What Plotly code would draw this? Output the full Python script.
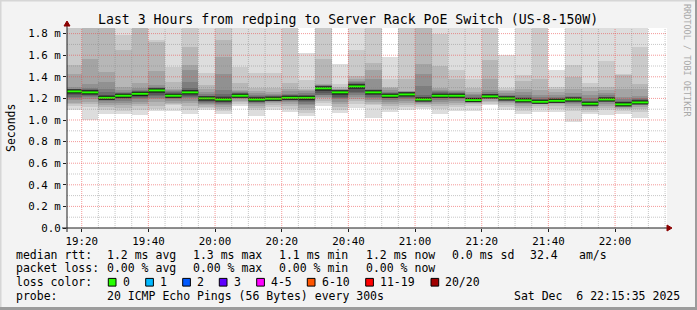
import plotly.graph_objects as go
import pandas as pd

# ---------------- data ----------------
bar_starts = pd.date_range("2025-12-06 19:15:00", periods=35, freq="5min")

median_ms = [1.265, 1.256, 1.206, 1.225, 1.243, 1.274, 1.225, 1.256, 1.200, 1.190,
             1.225, 1.190, 1.197, 1.206, 1.206, 1.293, 1.256, 1.311, 1.256, 1.225,
             1.237, 1.190, 1.225, 1.225, 1.184, 1.219, 1.200, 1.182, 1.169, 1.178,
             1.190, 1.151, 1.190, 1.145, 1.163]

# 20 sorted ping rtts (ms) per 5-minute step (values above 1.85 are off the chart)
pings_ms = [
    [1.095, 1.13, 1.15, 1.16, 1.185, 1.2, 1.215, 1.235, 1.25, 1.262, 1.267, 1.27, 1.275, 1.28, 1.29, 1.31, 1.43, 1.506, 1.9, 2.0],
    [1.003, 1.12, 1.15, 1.17, 1.19, 1.21, 1.225, 1.235, 1.245, 1.252, 1.26, 1.268, 1.275, 1.285, 1.30, 1.33, 1.567, 1.9, 1.95, 2.0],
    [1.058, 1.095, 1.12, 1.14, 1.16, 1.175, 1.185, 1.19, 1.195, 1.202, 1.21, 1.22, 1.235, 1.255, 1.283, 1.352, 1.444, 1.9, 1.95, 2.0],
    [1.052, 1.08, 1.11, 1.14, 1.16, 1.175, 1.19, 1.2, 1.21, 1.22, 1.23, 1.235, 1.24, 1.25, 1.26, 1.28, 1.306, 1.644, 1.783, 2.0],
    [1.05, 1.09, 1.13, 1.15, 1.17, 1.19, 1.2, 1.21, 1.225, 1.238, 1.248, 1.255, 1.26, 1.27, 1.28, 1.30, 1.343, 1.9, 1.95, 2.0],
    [1.083, 1.10, 1.13, 1.167, 1.19, 1.205, 1.22, 1.235, 1.25, 1.265, 1.28, 1.285, 1.29, 1.295, 1.305, 1.327, 1.45, 1.72, 1.745, 2.0],
    [1.083, 1.135, 1.145, 1.16, 1.175, 1.19, 1.2, 1.21, 1.218, 1.225, 1.232, 1.238, 1.245, 1.255, 1.265, 1.275, 1.29, 1.352, 1.49, 2.0],
    [1.058, 1.09, 1.13, 1.16, 1.18, 1.2, 1.215, 1.225, 1.24, 1.25, 1.262, 1.27, 1.28, 1.30, 1.352, 1.46, 1.506, 1.68, 1.9, 2.0],
    [1.095, 1.11, 1.12, 1.135, 1.15, 1.16, 1.17, 1.18, 1.188, 1.196, 1.204, 1.21, 1.215, 1.225, 1.24, 1.26, 1.29, 1.32, 1.435, 2.0],
    [1.052, 1.083, 1.10, 1.12, 1.135, 1.15, 1.16, 1.17, 1.178, 1.186, 1.194, 1.205, 1.22, 1.24, 1.274, 1.43, 1.583, 1.744, 1.9, 2.0],
    [1.13, 1.15, 1.165, 1.175, 1.19, 1.20, 1.21, 1.215, 1.22, 1.223, 1.228, 1.235, 1.24, 1.25, 1.26, 1.27, 1.28, 1.343, 1.49, 2.0],
    [1.033, 1.095, 1.11, 1.13, 1.145, 1.157, 1.165, 1.175, 1.182, 1.188, 1.193, 1.2, 1.21, 1.22, 1.235, 1.25, 1.27, 1.30, 1.435, 2.0],
    [1.095, 1.12, 1.14, 1.155, 1.165, 1.175, 1.182, 1.188, 1.192, 1.195, 1.2, 1.205, 1.212, 1.22, 1.23, 1.245, 1.26, 1.30, 1.435, 2.0],
    [1.07, 1.10, 1.13, 1.15, 1.165, 1.178, 1.188, 1.195, 1.2, 1.204, 1.208, 1.212, 1.22, 1.23, 1.245, 1.265, 1.29, 1.343, 1.9, 2.0],
    [1.033, 1.065, 1.09, 1.11, 1.135, 1.15, 1.165, 1.18, 1.192, 1.202, 1.21, 1.218, 1.225, 1.235, 1.25, 1.265, 1.28, 1.29, 1.367, 1.62],
    [1.13, 1.16, 1.18, 1.2, 1.215, 1.228, 1.235, 1.25, 1.265, 1.28, 1.3, 1.305, 1.31, 1.315, 1.32, 1.325, 1.336, 1.567, 1.9, 2.0],
    [1.065, 1.09, 1.12, 1.15, 1.17, 1.19, 1.205, 1.215, 1.235, 1.25, 1.262, 1.268, 1.272, 1.276, 1.28, 1.285, 1.29, 1.31, 1.336, 1.52],
    [1.11, 1.15, 1.18, 1.197, 1.215, 1.235, 1.25, 1.262, 1.285, 1.305, 1.317, 1.325, 1.33, 1.34, 1.35, 1.365, 1.38, 1.404, 1.65, 2.0],
    [1.021, 1.135, 1.15, 1.165, 1.182, 1.2, 1.215, 1.23, 1.24, 1.25, 1.26, 1.265, 1.27, 1.28, 1.29, 1.382, 1.466, 1.528, 1.9, 2.0],
    [1.07, 1.1, 1.13, 1.15, 1.17, 1.185, 1.2, 1.21, 1.218, 1.225, 1.232, 1.24, 1.245, 1.25, 1.26, 1.28, 1.295, 1.306, 1.382, 1.583],
    [1.095, 1.12, 1.14, 1.16, 1.18, 1.195, 1.208, 1.218, 1.226, 1.233, 1.24, 1.245, 1.25, 1.255, 1.26, 1.265, 1.27, 1.382, 1.9, 2.0],
    [1.105, 1.125, 1.14, 1.151, 1.16, 1.168, 1.175, 1.18, 1.184, 1.188, 1.192, 1.198, 1.21, 1.228, 1.311, 1.43, 1.52, 1.9, 1.95, 2.0],
    [1.052, 1.105, 1.13, 1.15, 1.167, 1.185, 1.2, 1.21, 1.218, 1.225, 1.232, 1.238, 1.245, 1.255, 1.265, 1.28, 1.30, 1.496, 1.80, 2.0],
    [1.083, 1.12, 1.14, 1.16, 1.175, 1.19, 1.2, 1.21, 1.218, 1.225, 1.232, 1.24, 1.245, 1.25, 1.255, 1.265, 1.274, 1.382, 1.46, 2.0],
    [1.083, 1.13, 1.15, 1.162, 1.17, 1.175, 1.178, 1.18, 1.182, 1.184, 1.188, 1.195, 1.205, 1.215, 1.23, 1.245, 1.259, 1.30, 1.382, 2.0],
    [1.135, 1.15, 1.165, 1.178, 1.19, 1.198, 1.205, 1.21, 1.214, 1.217, 1.222, 1.228, 1.235, 1.243, 1.255, 1.274, 1.382, 1.552, 1.9, 2.0],
    [1.095, 1.12, 1.14, 1.155, 1.165, 1.175, 1.182, 1.19, 1.195, 1.198, 1.203, 1.208, 1.215, 1.225, 1.235, 1.25, 1.265, 1.28, 1.30, 1.598],
    [1.052, 1.083, 1.11, 1.13, 1.151, 1.16, 1.168, 1.174, 1.178, 1.181, 1.185, 1.19, 1.2, 1.215, 1.235, 1.26, 1.29, 1.36, 1.413, 2.0],
    [1.074, 1.11, 1.13, 1.145, 1.155, 1.16, 1.164, 1.167, 1.169, 1.17, 1.173, 1.178, 1.185, 1.195, 1.21, 1.23, 1.274, 1.382, 1.9, 2.0],
    [1.074, 1.105, 1.13, 1.145, 1.155, 1.163, 1.168, 1.172, 1.175, 1.177, 1.18, 1.185, 1.19, 1.2, 1.215, 1.235, 1.26, 1.285, 1.306, 1.466],
    [0.981, 1.083, 1.11, 1.13, 1.151, 1.16, 1.17, 1.178, 1.184, 1.188, 1.192, 1.198, 1.205, 1.215, 1.225, 1.25, 1.29, 1.398, 1.506, 2.0],
    [1.052, 1.075, 1.095, 1.11, 1.125, 1.135, 1.142, 1.146, 1.149, 1.151, 1.155, 1.16, 1.168, 1.18, 1.2, 1.23, 1.27, 1.306, 1.343, 2.0],
    [1.043, 1.089, 1.11, 1.13, 1.15, 1.165, 1.175, 1.182, 1.186, 1.189, 1.192, 1.197, 1.205, 1.215, 1.23, 1.25, 1.275, 1.306, 1.546, 2.0],
    [1.058, 1.08, 1.10, 1.115, 1.125, 1.132, 1.137, 1.14, 1.143, 1.145, 1.148, 1.155, 1.165, 1.18, 1.195, 1.213, 1.29, 1.42, 1.43, 2.0],
    [1.019, 1.075, 1.10, 1.12, 1.135, 1.145, 1.152, 1.157, 1.16, 1.162, 1.165, 1.17, 1.178, 1.19, 1.205, 1.225, 1.29, 1.336, 1.68, 2.0],
]

y_tick_vals = [0.0, 0.2, 0.4, 0.6, 0.8, 1.0, 1.2, 1.4, 1.6, 1.8]
y_tick_text = ["0.0", "0.2 m", "0.4 m", "0.6 m", "0.8 m", "1.0 m", "1.2 m", "1.4 m", "1.6 m", "1.8 m"]
y_minor_vals = [0.1, 0.3, 0.5, 0.7, 0.9, 1.1, 1.3, 1.5, 1.7]
x_tick_vals = ["2025-12-06 19:20", "2025-12-06 19:40", "2025-12-06 20:00", "2025-12-06 20:20",
               "2025-12-06 20:40", "2025-12-06 21:00", "2025-12-06 21:20", "2025-12-06 21:40",
               "2025-12-06 22:00"]
x_tick_text = ["19:20", "19:40", "20:00", "20:20", "20:40", "21:00", "21:20", "21:40", "22:00"]
x_range = ["2025-12-06 19:15:35", "2025-12-06 22:15:35"]

smoke_grays = ["#dddddd", "#cacaca", "#b7b7b7", "#a4a4a4", "#919191",
               "#7e7e7e", "#6b6b6b", "#585858", "#454545", "#323232"]
loss_labels = ["0", "1", "2", "3", "4-5", "6-10", "11-19", "20/20"]
loss_colors = ["#26ff00", "#00b8ff", "#0059ff", "#5e00ff", "#ff00ff", "#ff5500", "#ff0000", "#a00000"]

legend_rtt = ["1.2 ms avg", "1.3 ms max", "1.1 ms min", "1.2 ms now", "0.0 ms sd", "32.4", "am/s"]
legend_loss = ["0.00 % avg", "0.00 % max", "0.00 % min", "0.00 % now"]
probe_text = "20 ICMP Echo Pings (56 Bytes) every 300s"
stamp_text = "Sat Dec  6 22:15:35 2025"
title_text = "Last 3 Hours from redping to Server Rack PoE Switch (US-8-150W)"

# ---------------- geometry (layout only) ----------------
W, H = 697, 310
L, R, T, B = 67, 667, 28, 228
Y_MAX = 1.852
MONO = "DejaVu Sans Mono"


def px(xp):
    return (xp - L) / (R - L)


def py(yp):
    return (B - yp) / (B - T)


step = pd.Timedelta(minutes=5)
centers = bar_starts + step / 2

fig = go.Figure()

# smoke layers
for i, col in enumerate(smoke_grays):
    lo = [p[i] for p in pings_ms]
    hi = [p[19 - i] for p in pings_ms]
    fig.add_trace(go.Bar(
        x=centers, y=[h - l for h, l in zip(hi, lo)], base=lo,
        width=step.total_seconds() * 1000, marker=dict(color=col, line=dict(width=0)),
        hoverinfo="skip", showlegend=False))

# median line segments
mx, my = [], []
for s, m in zip(bar_starts, median_ms):
    mx += [s, s + step, None]
    my += [m, m, None]
fig.add_trace(go.Scatter(x=mx, y=my, mode="lines", line=dict(color="#151515", width=4),
                         hoverinfo="skip", showlegend=False))
fig.add_trace(go.Scatter(x=mx, y=my, mode="lines", line=dict(color=loss_colors[0], width=2),
                         hoverinfo="skip", showlegend=False))

shapes = []
# grid drawn above data (rrdtool style)
minor_times = pd.date_range("2025-12-06 19:20", "2025-12-06 22:15", freq="5min")
major_set = set(pd.to_datetime(x_tick_vals))
for t in minor_times:
    if t in major_set:
        continue
    shapes.append(dict(type="line", xref="x", yref="paper", x0=t, x1=t, y0=0, y1=1,
                       line=dict(color="rgba(130,130,130,0.45)", width=1, dash="1px,1px"), layer="above"))
for v in y_minor_vals:
    shapes.append(dict(type="line", xref="paper", yref="y", x0=0, x1=1, y0=v, y1=v,
                       line=dict(color="rgba(130,130,130,0.45)", width=1, dash="1px,1px"), layer="above"))
for t in x_tick_vals:
    shapes.append(dict(type="line", xref="x", yref="paper", x0=t, x1=t, y0=0, y1=1,
                       line=dict(color="rgba(235,70,70,0.55)", width=1, dash="1px,1px"), layer="above"))
for v in y_tick_vals[1:]:
    shapes.append(dict(type="line", xref="paper", yref="y", x0=0, x1=1, y0=v, y1=v,
                       line=dict(color="rgba(235,70,70,0.55)", width=1, dash="1px,1px"), layer="above"))

# axes + arrows
axis_col = "#1e1e1e"
shapes.append(dict(type="line", xref="paper", yref="paper", x0=px(62), x1=px(668), y0=0, y1=0,
                   line=dict(color=axis_col, width=1), layer="above"))
shapes.append(dict(type="line", xref="paper", yref="paper", x0=0, x1=0, y0=py(232), y1=py(25),
                   line=dict(color=axis_col, width=1), layer="above"))
shapes.append(dict(type="path", xref="paper", yref="paper",
                   path=f"M {px(667)} {py(225)} L {px(672)} {py(228)} L {px(667)} {py(231)} Z",
                   fillcolor="#8b0000", line=dict(color="#8b0000", width=1), layer="above"))
shapes.append(dict(type="path", xref="paper", yref="paper",
                   path=f"M {px(64)} {py(26)} L {px(67)} {py(21)} L {px(70)} {py(26)} Z",
                   fillcolor="#8b0000", line=dict(color="#8b0000", width=1), layer="above"))

# bevel frame
shapes.append(dict(type="line", xref="paper", yref="paper", x0=px(0), x1=px(W), y0=py(0.5), y1=py(0.5),
                   line=dict(color="#d6d6d6", width=2)))
shapes.append(dict(type="line", xref="paper", yref="paper", x0=px(0.5), x1=px(0.5), y0=py(0), y1=py(H),
                   line=dict(color="#d6d6d6", width=2)))
shapes.append(dict(type="line", xref="paper", yref="paper", x0=px(0), x1=px(W), y0=py(H - 1.5), y1=py(H - 1.5),
                   line=dict(color="#9c9c9c", width=3)))
shapes.append(dict(type="line", xref="paper", yref="paper", x0=px(W - 1), x1=px(W - 1), y0=py(0), y1=py(H),
                   line=dict(color="#9c9c9c", width=2)))

annotations = []


def text(x, y, s, size=11.5, color="#000000", anchor="left", angle=0):
    annotations.append(dict(xref="paper", yref="paper", x=px(x), y=py(y), text=s, showarrow=False,
                            xanchor=anchor, yanchor="middle", textangle=angle,
                            font=dict(family=MONO, size=size, color=color),
                            borderpad=0, borderwidth=0))


text(348, 19, title_text, size=13.2, anchor="center")
text(11, 128, "Seconds", size=11.5, anchor="center", angle=-90)
text(687, 60, "RRDTOOL / TOBI OETIKER", size=8.5, color="#a8a8a8", anchor="center", angle=90)

row_y = [254.7, 268.2, 282.3, 295.8]
text(16, row_y[0], "median rtt:")
for s, x in zip(legend_rtt, [107.3, 193.3, 279.3, 366, 451.7, 530, 579.3]):
    text(x, row_y[0], s)
text(16, row_y[1], "packet loss:")
for s, x in zip(legend_loss, [107.3, 193.3, 279.3, 366]):
    text(x, row_y[1], s)
text(16, row_y[2], "loss color:")
box_left = [108.3, 145.7, 182.7, 219.3, 256.7, 307.3, 365.7, 431]
for lab, col, bx in zip(loss_labels, loss_colors, box_left):
    shapes.append(dict(type="rect", xref="paper", yref="paper", x0=px(bx), x1=px(bx + 7.7),
                       y0=py(278.4), y1=py(286.1), fillcolor=col, line=dict(color="#000000", width=1)))
    text(bx + 14.3, row_y[2], lab)
text(16, row_y[3], "probe:")
text(107.3, row_y[3], probe_text)
text(680, row_y[3], stamp_text, anchor="right")

fig.update_layout(
    width=W, height=H,
    margin=dict(l=L, r=W - R, t=T, b=H - B, pad=0),
    paper_bgcolor="#f3f3f3", plot_bgcolor="#ffffff",
    barmode="overlay", bargap=0, showlegend=False,
    shapes=shapes, annotations=annotations,
    xaxis=dict(type="date", range=x_range, showgrid=False, zeroline=False, showline=False,
               tickvals=x_tick_vals, ticktext=x_tick_text, ticks="outside", ticklen=3,
               tickcolor=axis_col, tickfont=dict(family=MONO, size=10.8, color="#000"),
               fixedrange=True),
    yaxis=dict(range=[0, Y_MAX], showgrid=False, zeroline=False, showline=False,
               tickvals=y_tick_vals, ticktext=y_tick_text, ticks="outside", ticklen=3,
               tickcolor=axis_col, tickfont=dict(family=MONO, size=10.8, color="#000"),
               fixedrange=True),
)

fig.write_html("out.html", config={"displayModeBar": False, "staticPlot": True})
